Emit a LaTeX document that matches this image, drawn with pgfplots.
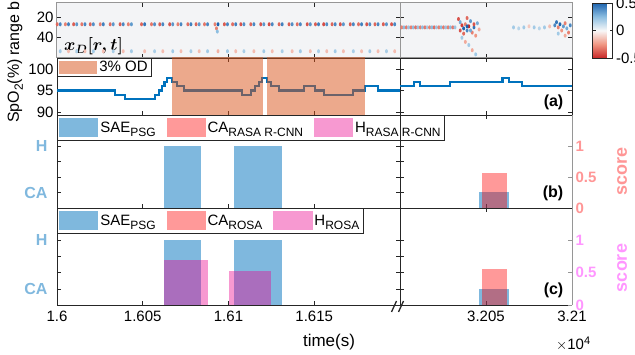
\documentclass[border=0pt]{standalone}
\usepackage{pgfplots}
\pgfplotsset{compat=1.18}
\usepackage{fontspec}
\setmainfont{Liberation Sans}
\newcommand\fs[1]{\fontsize{#1}{#1}\selectfont}
\newcommand\sub[1]{\raisebox{-4pt}{\fs{12}#1}}
\definecolor{matblue}{RGB}{0,114,189}
\definecolor{matorange}{RGB}{217,83,25}
\definecolor{lblue}{RGB}{128,184,222}
\definecolor{pinkr}{RGB}{255,150,150}
\definecolor{pinkm}{RGB}{255,150,255}
\definecolor{axgray}{RGB}{38,38,38}
\definecolor{hmgray}{RGB}{150,150,150}
\definecolor{hmbg}{RGB}{243,244,246}

\pgfplotsset{
  base/.style={scale only axis, anchor=north west,
    tick align=inside, major tick length=4pt,
    tick style={axgray, line width=0.6pt},
    axis line style={axgray, line width=0.8pt},
    tick label style={font=\fs{15}},
    /pgf/number format/assume math mode=true,
    scaled x ticks=false, scaled y ticks=false,
    xticklabels={},
  },
  lp/.style={base, xmin=16000, xmax=16200, width=343pt, xtick={16050,16100,16150}},
  rp/.style={base, xmin=32000, xmax=32100, width=172pt, xtick={32050}},
  hm/.style={height=55pt, ymin=6.5, ymax=59.5, y dir=reverse, ytick={20,40},
    axis line style={hmgray, line width=1pt},
    axis background/.style={fill=hmbg},
    colormap={rb}{rgb255=(200,40,40) rgb255=(240,150,130) rgb255=(248,248,248) rgb255=(140,190,225) rgb255=(30,100,175)},
    point meta min=-0.5, point meta max=0.5},
  dots/.style={scatter, only marks, mark=*, mark size=1.45pt, mark options={yscale=1.4},
    scatter/use mapped color={draw opacity=0, fill=mapped color}, point meta=explicit},
  sp/.style={height=57pt, ymin=89.3, ymax=102.6, ytick={90,95,100}},
  ev/.style={ymin=0, ymax=1.5, ytick={0.25,0.5,0.75,1}},
  bigleg/.style={legend columns=3,
    legend style={at={(0,1)}, anchor=north west, draw=axgray, line width=0.6pt, fill=white,
      font=\fs{15}, inner xsep=2pt, inner ysep=3pt,
      /tikz/every even column/.append style={column sep=9pt}},
    legend cell align=left,
    legend image code/.code={\fill[##1] (0pt,-9.5pt) rectangle (39pt,9.5pt);}},
  sae/.style={fill=matblue, fill opacity=0.5, draw=none},
  ca/.style={fill=red, fill opacity=0.4, draw=none},
  hh/.style={fill=magenta, fill opacity=0.4, draw=none},
}

\begin{document}
\begin{tikzpicture}
% ---------------- heatmap left
\begin{axis}[lp, hm, at={(57pt,-3pt)}]
\addplot[dots] table[meta=c] {
x y c
16000.1 27 -0.35
16001.9 27 0.40
16004.9 27 -0.30
16006.7 27 0.42
16009.7 27 -0.38
16011.5 27 0.35
16014.5 27 -0.32
16016.3 27 0.40
16019.4 27 -0.36
16021.2 27 0.38
16025.2 27 -0.30
16027.0 27 0.42
16031.0 27 -0.34
16032.8 27 0.36
16036.8 27 -0.38
16038.6 27 0.40
16041.6 27 -0.30
16043.4 27 0.35
16049.3 27 -0.36
16051.1 27 0.45
16055.1 27 -0.32
16056.9 27 0.38
16059.9 27 -0.38
16061.7 27 0.40
16065.7 27 -0.40
16067.5 27 0.36
16070.5 27 -0.30
16072.3 27 0.40
16076.3 27 -0.34
16078.1 27 0.42
16081.1 27 -0.36
16082.9 27 0.35
16086.0 27 -0.32
16087.8 27 0.40
16092.1 27 -0.30
16093.9 27 0.50
16097.6 27 -0.38
16099.4 27 0.40
16102.4 27 -0.34
16104.2 27 0.42
16107.2 27 -0.40
16109.0 27 0.38
16113.0 27 -0.36
16114.8 27 0.40
16118.8 27 -0.40
16120.6 27 0.36
16123.7 27 -0.42
16125.5 27 0.40
16129.5 27 -0.36
16131.3 27 0.42
16135.3 27 -0.38
16137.1 27 0.38
16140.1 27 -0.34
16141.9 27 0.40
16145.9 27 -0.40
16147.7 27 0.36
16150.7 27 -0.38
16152.5 27 0.42
16155.5 27 -0.42
16157.3 27 0.38
16160.4 27 -0.36
16162.2 27 0.40
16165.2 27 -0.40
16167.0 27 0.36
16171.0 27 -0.38
16172.8 27 0.40
16175.8 27 -0.34
16177.6 27 0.42
16180.6 27 -0.40
16182.4 27 0.38
16185.4 27 -0.36
16187.2 27 0.40
16190.3 27 -0.38
16192.1 27 0.36
16195.1 27 -0.40
16196.9 27 0.40
16093.0 31 -0.30
16093.5 34 0.25
16001.9 53 0.20
16006.7 53 -0.15
16011.5 53 0.18
16016.3 53 -0.15
16021.2 53 0.20
16027.0 53 -0.15
16032.8 53 0.18
16038.6 53 -0.15
16043.4 53 0.20
16051.1 53 -0.15
16056.9 53 0.18
16061.7 53 -0.15
16067.5 53 0.20
16072.3 53 -0.15
16078.1 53 0.18
16082.9 53 -0.15
16087.8 53 0.20
16093.9 53 -0.18
16099.4 53 0.20
16104.2 53 -0.15
16109.0 53 0.18
16114.8 53 -0.15
16120.6 53 0.20
16125.5 53 -0.15
16131.3 53 0.18
16137.1 53 -0.15
16141.9 53 0.20
16147.7 53 -0.15
16152.5 53 0.18
16157.3 53 -0.15
16162.2 53 0.20
16167.0 53 -0.15
16172.8 53 0.18
16177.6 53 -0.15
16182.4 53 0.20
16187.2 53 -0.15
16192.1 53 0.18
16196.9 53 -0.15
};
\node[anchor=south west, inner sep=0pt, font=\fs{17}\boldmath] at (rel axis cs:0.02,0.05) {$x_D[r,t]$};
\end{axis}
% ---------------- heatmap right
\begin{axis}[rp, hm, at={(400pt,-3pt)}, yticklabels={},
  colorbar, colorbar style={scale only axis, width=20pt, height=55pt,
    at={(parent axis.north east)}, anchor=north west, xshift=12pt,
    ytick={-0.5,0,0.5}, yticklabels={-0.5,0,0.5},
    yticklabel style={font=\fs{15}}, axis line style={axgray, line width=0.6pt},
    tick style={axgray}, major tick length=3pt}]
\addplot[dots] table[meta=c] {
x y c
32001.0 30 -0.30
32002.3 30 0.25
32003.7 30 -0.32
32005.0 30 0.22
32006.4 30 -0.30
32007.7 30 0.25
32009.1 30 -0.34
32010.4 30 0.22
32011.8 30 -0.30
32013.1 30 0.25
32014.5 30 -0.32
32015.8 30 0.20
32017.2 30 -0.30
32018.5 30 0.25
32019.9 30 -0.34
32021.2 30 0.22
32022.6 30 -0.30
32023.9 30 0.25
32025.3 30 -0.32
32026.6 30 0.22
32028.0 30 -0.30
32029.3 30 0.25
32030.7 30 -0.32
32032.0 30 0.22
32034 22 -0.40
32035 25 0.30
32036 28 -0.45
32037 31 0.50
32038 27 -0.30
32039 33 0.40
32040 29 -0.50
32041 24 0.35
32042 35 -0.30
32043 30 0.45
32044 38 -0.25
32045 26 0.30
32036 40 0.20
32038 44 -0.20
32040 47 0.20
32042 52 -0.20
32044 56 0.20
32037 36 -0.35
32039 21 -0.35
32041 33 0.30
32046 32 -0.20
32035 33 -0.40
32043 27 -0.40
32039 29 0.50
32066 30 0.20
32069 31 0.15
32072 30 0.20
32075 29 -0.12
32078 30 0.20
32081 31 0.15
32084 30 0.20
32087 29 -0.15
32090 28 0.40
32091 25 0.45
32092 30 -0.30
32093 27 0.50
32094 33 -0.25
32095 29 0.35
32096 26 -0.30
32097 31 0.30
32098 35 -0.30
32099 28 0.40
32092 36 0.20
32096 38 -0.20
};
\end{axis}
% ---------------- SpO2 left
\begin{axis}[lp, sp, at={(57pt,-58pt)},
  legend style={at={(0,1)}, anchor=north west, draw=axgray, line width=0.6pt, fill=white,
    font=\fs{15}, inner xsep=2pt, inner ysep=1pt},
  legend image code/.code={\fill[#1] (0pt,-6.5pt) rectangle (38pt,6.5pt);}]
\addplot[const plot, matblue, line width=2.2pt, forget plot] coordinates {
(16000,95) (16033.8,94) (16039.6,93) (16057,94) (16059.3,95) (16061.2,96)
(16062.7,97) (16064.3,98) (16067,97) (16070,96) (16073.9,95) (16108.1,94)
(16113,95) (16115.3,96) (16117.8,97) (16119.7,98) (16122.6,97) (16124.6,96)
(16129.4,95) (16143.9,96) (16150.6,95) (16155.5,94) (16172.8,95) (16179.6,96)
(16187.3,95) (16200,95)};
\addplot[fill=matorange, fill opacity=0.5, draw=none] coordinates {(16067,80) (16067,110) (16120.3,110) (16120.3,80)} -- cycle;
\addlegendentry{3\% OD}
\addplot[fill=matorange, fill opacity=0.5, draw=none, forget plot] coordinates {(16122.6,80) (16122.6,110) (16179.6,110) (16179.6,80)} -- cycle;
\end{axis}
% ---------------- SpO2 right
\begin{axis}[rp, sp, at={(400pt,-58pt)}, yticklabels={}]
\addplot[const plot, matblue, line width=2.2pt] coordinates {
(32000,96) (32008.2,97) (32011.6,96) (32029.2,97) (32059.6,98) (32063.5,97) (32071,96) (32100,96)};
\node[anchor=south east, font=\fs{16}\bfseries] at (rel axis cs:0.97,0.03) {(a)};
\end{axis}
% ---------------- panel b left
\begin{axis}[lp, ev, bigleg, at={(57pt,-115pt)}, height=93pt,
  yticklabels={CA,,,H}, yticklabel style={lblue, font=\fs{16}\bfseries, xshift=-6pt}]
\addplot[sae] coordinates {(16062.3,0) (16062.3,1) (16084.2,1) (16084.2,0)} -- cycle;
\addlegendentry{SAE\sub{PSG}}
\addplot[sae, forget plot] coordinates {(16103.3,0) (16103.3,1) (16131,1) (16131,0)} -- cycle;
\addlegendimage{ca}
\addlegendentry{CA\sub{RASA R-CNN}}
\addlegendimage{hh}
\addlegendentry{H\sub{RASA R-CNN}}
\end{axis}
% ---------------- panel b right
\begin{axis}[rp, ev, at={(400pt,-115pt)}, height=93pt, yticklabels={},
  axis x line*=box, axis y line*=left]
\addplot[sae] coordinates {(32046,0) (32046,0.25) (32063.3,0.25) (32063.3,0)} -- cycle;
\addplot[ca] coordinates {(32047.6,0) (32047.6,0.56) (32062.2,0.56) (32062.2,0)} -- cycle;
\node[anchor=south east, font=\fs{16}\bfseries] at (rel axis cs:0.97,0.04) {(b)};
\end{axis}
\begin{axis}[rp, at={(400pt,-115pt)}, height=93pt, ymin=0, ymax=1.5,
  axis x line=none, axis y line*=right, ytick={0,0.5,1}, yticklabels={0,0.5,1},
  yticklabel style={pinkr, font=\fs{15}\bfseries},
  axis line style={hmgray, line width=0.8pt}, tick style={hmgray}]
\addplot[draw=none] coordinates {(32000,0)};
\end{axis}
% ---------------- panel c left
\begin{axis}[lp, ev, bigleg, at={(57pt,-208pt)}, height=97pt,
  yticklabels={CA,,,H}, yticklabel style={lblue, font=\fs{16}\bfseries, xshift=-6pt},
  xtick={16000,16050,16100,16150}, xticklabels={1.6,1.605,1.61,1.615},
  xticklabel style={yshift=-2pt}]
\addplot[sae] coordinates {(16062.3,0) (16062.3,1) (16084.2,1) (16084.2,0)} -- cycle;
\addlegendentry{SAE\sub{PSG}}
\addplot[sae, forget plot] coordinates {(16103.3,0) (16103.3,1) (16131,1) (16131,0)} -- cycle;
\addlegendimage{ca}
\addlegendentry{CA\sub{ROSA}}
\addplot[hh] coordinates {(16062.3,0) (16062.3,0.69) (16087.8,0.69) (16087.8,0)} -- cycle;
\addlegendentry{H\sub{ROSA}}
\addplot[hh, forget plot] coordinates {(16100.4,0) (16100.4,0.53) (16124.6,0.53) (16124.6,0)} -- cycle;
\end{axis}
% ---------------- panel c right
\begin{axis}[rp, ev, at={(400pt,-208pt)}, height=97pt, yticklabels={},
  axis x line*=box, axis y line*=left,
  xtick={32050,32100}, xticklabels={3.205,3.21}, xticklabel style={yshift=-2pt}]
\addplot[sae] coordinates {(32046,0) (32046,0.25) (32063.3,0.25) (32063.3,0)} -- cycle;
\addplot[ca] coordinates {(32047.6,0) (32047.6,0.56) (32062.2,0.56) (32062.2,0)} -- cycle;
\node[anchor=south east, font=\fs{16}\bfseries] at (rel axis cs:0.97,0.04) {(c)};
\end{axis}
\begin{axis}[rp, at={(400pt,-208pt)}, height=97pt, ymin=0, ymax=1.5,
  axis x line=none, axis y line*=right, ytick={0,0.5,1}, yticklabels={0,0.5,1},
  yticklabel style={pinkm, font=\fs{15}\bfseries},
  axis line style={hmgray, line width=0.8pt}, tick style={hmgray}]
\addplot[draw=none] coordinates {(32000,0)};
\end{axis}
% ---------------- labels and decorations
\node[rotate=90, font=\fs{16}] at (15pt,-22pt) {range bin};
\node[rotate=90, font=\fs{16}] at (15pt,-91pt) {SpO\sub{2}(\%)};
\node[rotate=90, font=\fs{18}\bfseries, text=pinkr] at (622pt,-171.5pt) {score};
\node[rotate=90, font=\fs{18}\bfseries, text=pinkm] at (622pt,-268pt) {score};
\node[font=\fs{17}] at (329pt,-342pt) {time(s)};
\node[anchor=west, font=\fs{15}, inner sep=0pt] at (556pt,-344pt) {$\times$10\raisebox{5pt}{\fs{11}4}};
\draw[axgray, line width=1.3pt] (391.5pt,-312pt) -- (396.5pt,-301pt) (398.5pt,-312pt) -- (403.5pt,-301pt);
\pgfresetboundingbox
\path[use as bounding box] (0pt,0pt) rectangle (635pt,-355pt);
\end{tikzpicture}
\end{document}
